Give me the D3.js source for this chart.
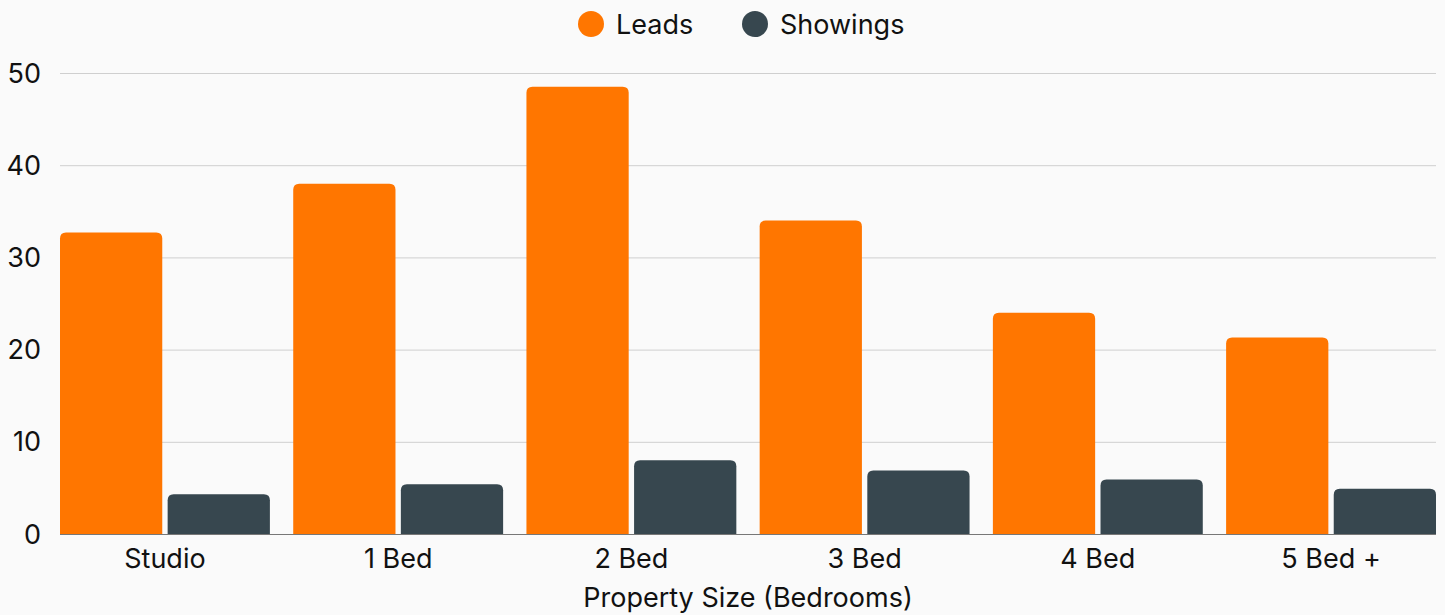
<!DOCTYPE html>
<html>
<head>
<meta charset="utf-8">
<script src="https://cdn.jsdelivr.net/npm/d3@7"></script>
<style>
  html, body { margin: 0; padding: 0; background: #fafafa; }
  svg { display: block; font-family: Inter, "Noto Sans", sans-serif; }
</style>
</head>
<body>
<svg id="chart" width="1445" height="615"></svg>
<script>
// Lead and showing counts by property size
const categories = ["Studio", "1 Bed", "2 Bed", "3 Bed", "4 Bed", "5 Bed +"];
const seriesNames = ["Leads", "Showings"];
const leads = [32.7, 38.0, 48.5, 34.0, 24.0, 21.3];
const showings = [4.3, 5.4, 8.0, 6.9, 5.9, 4.9];
const yTicks = [0, 10, 20, 30, 40, 50];
const colors = ["#ff7600", "#37474f"];

const svg = d3.select("#chart");
const W = 1445, H = 615;
const margin = { left: 60, right: 9, top: 73, bottom: 81 };
const plotBottom = H - margin.bottom;
const fontSize = 27;

const x0 = d3.scaleBand().domain(categories)
  .range([margin.left, W - margin.right])
  .paddingInner(0.1).paddingOuter(0);
const x1 = d3.scaleBand().domain(seriesNames)
  .range([0, x0.bandwidth()]).paddingInner(0.05);
const y = d3.scaleLinear().domain([0, 50]).range([plotBottom, margin.top]);

// grid lines
svg.append("g").selectAll("line").data(yTicks.filter(d => d > 0)).join("line")
  .attr("x1", margin.left).attr("x2", W - margin.right)
  .attr("y1", d => y(d) + 0.5).attr("y2", d => y(d) + 0.5)
  .attr("stroke", "#cfcfcf").attr("stroke-width", 1);

// y tick labels
svg.append("g").selectAll("text").data(yTicks).join("text")
  .attr("x", 41).attr("y", d => y(d))
  .attr("text-anchor", "end").attr("dominant-baseline", "central")
  .attr("font-size", fontSize).attr("fill", "#111")
  .text(d => d);

// rounded-top bar path
function barPath(x, yTop, w, yBottom, r) {
  const rr = Math.min(r, (yBottom - yTop), w / 2);
  return `M${x},${yBottom}V${yTop + rr}Q${x},${yTop} ${x + rr},${yTop}` +
    `H${x + w - rr}Q${x + w},${yTop} ${x + w},${yTop + rr}V${yBottom}Z`;
}

const rows = categories.map((c, i) => ({ cat: c, vals: [leads[i], showings[i]] }));
const groups = svg.append("g").selectAll("g").data(rows).join("g")
  .attr("transform", d => `translate(${x0(d.cat)},0)`);
groups.selectAll("path").data(d => d.vals.map((v, j) => ({ s: seriesNames[j], v, j })))
  .join("path")
  .attr("d", d => barPath(x1(d.s), y(d.v), x1.bandwidth(), y(0), 6))
  .attr("fill", d => colors[d.j]);

// baseline
svg.append("line")
  .attr("x1", margin.left).attr("x2", W - margin.right)
  .attr("y1", y(0) + 0.5).attr("y2", y(0) + 0.5)
  .attr("stroke", "#777").attr("stroke-width", 1);

// category labels
svg.append("g").selectAll("text").data(categories).join("text")
  .attr("x", d => x0(d) + x0.bandwidth() / 2).attr("y", 568)
  .attr("text-anchor", "middle")
  .attr("font-size", fontSize).attr("fill", "#111")
  .text(d => d);

// axis title
svg.append("text")
  .attr("x", margin.left + (W - margin.right - margin.left) / 2).attr("y", 607)
  .attr("text-anchor", "middle")
  .attr("font-size", fontSize).attr("fill", "#111")
  .text("Property Size (Bedrooms)");

// legend
const legendItems = [{ name: "Leads", cx: 591 }, { name: "Showings", cx: 755 }];
const lg = svg.append("g").selectAll("g").data(legendItems).join("g");
lg.append("circle").attr("cx", d => d.cx).attr("cy", 24).attr("r", 13)
  .attr("fill", (d, i) => colors[i]);
lg.append("text").attr("x", d => d.cx + 25).attr("y", 24)
  .attr("dominant-baseline", "central")
  .attr("font-size", fontSize).attr("fill", "#111")
  .text(d => d.name);
</script>
</body>
</html>
